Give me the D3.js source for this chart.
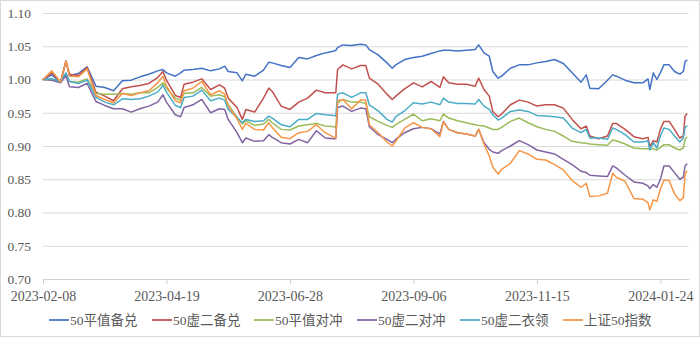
<!DOCTYPE html>
<html><head><meta charset="utf-8">
<script src="https://cdn.jsdelivr.net/npm/d3@7"></script>
<style>html,body{margin:0;padding:0;background:#fff;} svg{display:block;}</style>
</head><body>
<svg id="chart" width="700" height="337"></svg>
<script>
const dates = [
"2023-02-08","2023-02-13","2023-02-18","2023-02-21","2023-02-23","2023-02-28","2023-03-05","2023-03-10","2023-03-15","2023-03-20",
"2023-03-25","2023-03-30","2023-04-04","2023-04-09","2023-04-14","2023-04-17","2023-04-19","2023-04-24","2023-04-27","2023-04-29",
"2023-05-04","2023-05-09","2023-05-14","2023-05-19","2023-05-22","2023-05-24","2023-05-29","2023-06-01","2023-06-03","2023-06-08",
"2023-06-13","2023-06-16","2023-06-18","2023-06-23","2023-06-28","2023-07-03","2023-07-08","2023-07-13","2023-07-18","2023-07-23",
"2023-07-24","2023-07-25","2023-07-28","2023-08-02","2023-08-07","2023-08-10","2023-08-12","2023-08-17","2023-08-22","2023-08-25",
"2023-08-27","2023-09-01","2023-09-06","2023-09-11","2023-09-16","2023-09-21","2023-09-23","2023-09-26","2023-10-01","2023-10-06",
"2023-10-11","2023-10-13","2023-10-16","2023-10-19","2023-10-21","2023-10-24","2023-10-26","2023-10-31","2023-11-05","2023-11-10",
"2023-11-15","2023-11-20","2023-11-25","2023-11-30","2023-12-05","2023-12-10","2023-12-13","2023-12-15","2023-12-20","2023-12-25",
"2023-12-28","2023-12-30","2024-01-04","2024-01-09","2024-01-14","2024-01-17","2024-01-18","2024-01-20","2024-01-22","2024-01-24",
"2024-01-26","2024-01-29","2024-02-01","2024-02-04","2024-02-06","2024-02-07","2024-02-08"];

const atmCovered = [ // 50平值备兑
1.000,1.007,0.996,1.027,1.006,1.009,1.019,0.990,0.988,0.983,
0.998,0.999,1.004,1.008,1.013,1.015,1.010,1.005,1.010,1.014,
1.015,1.017,1.013,1.016,1.020,1.012,1.010,0.998,1.008,1.005,
1.014,1.026,1.025,1.021,1.018,1.033,1.031,1.036,1.040,1.043,
1.044,1.048,1.052,1.051,1.053,1.052,1.045,1.037,1.025,1.017,
1.022,1.030,1.033,1.035,1.039,1.043,1.044,1.044,1.043,1.044,
1.045,1.052,1.040,1.035,1.012,1.002,1.005,1.017,1.022,1.022,
1.025,1.027,1.030,1.024,1.010,0.996,1.007,0.987,0.986,0.999,
1.007,1.005,0.999,0.995,0.995,1.001,0.985,1.010,1.000,1.010,
1.022,1.022,1.012,1.008,1.012,1.027,1.029];

const otmCovered = [ // 50虚二备兑
1.000,1.010,0.996,1.028,1.008,1.006,1.018,0.981,0.975,0.968,
0.986,0.989,0.991,0.994,1.003,1.012,0.999,0.976,0.973,0.993,
0.996,1.001,0.985,0.992,0.987,0.972,0.958,0.940,0.955,0.951,
0.972,0.987,0.982,0.960,0.955,0.966,0.972,0.984,0.980,0.980,
0.980,1.015,1.022,1.016,1.021,1.021,1.002,0.993,0.978,0.970,
0.975,0.986,0.995,0.989,0.997,0.988,1.004,0.995,0.993,0.993,
0.990,1.002,0.985,0.975,0.952,0.944,0.948,0.962,0.969,0.966,
0.960,0.962,0.962,0.957,0.940,0.926,0.930,0.915,0.911,0.915,
0.934,0.934,0.925,0.914,0.911,0.913,0.899,0.908,0.906,0.925,
0.937,0.937,0.925,0.912,0.915,0.945,0.948];

const atmHedge = [ // 50平值对冲
1.000,1.000,0.997,1.008,0.997,0.996,1.001,0.979,0.978,0.978,
0.979,0.978,0.980,0.980,0.988,0.995,0.987,0.972,0.969,0.979,
0.980,0.988,0.975,0.977,0.974,0.962,0.943,0.933,0.938,0.931,
0.933,0.940,0.935,0.925,0.924,0.930,0.932,0.934,0.930,0.929,
0.928,0.965,0.970,0.966,0.966,0.964,0.944,0.937,0.931,0.928,
0.932,0.940,0.948,0.938,0.941,0.938,0.948,0.942,0.938,0.935,
0.932,0.931,0.930,0.927,0.925,0.925,0.928,0.937,0.942,0.935,
0.929,0.925,0.922,0.915,0.907,0.905,0.904,0.903,0.902,0.901,
0.909,0.908,0.903,0.897,0.896,0.896,0.895,0.896,0.894,0.898,
0.902,0.902,0.897,0.894,0.897,0.910,0.913];

const otmHedge = [ // 50虚二对冲
1.000,0.999,0.995,1.006,0.989,0.988,0.994,0.967,0.961,0.956,
0.956,0.951,0.956,0.960,0.966,0.977,0.966,0.947,0.944,0.958,
0.962,0.970,0.950,0.956,0.955,0.940,0.920,0.905,0.912,0.907,
0.908,0.917,0.913,0.905,0.903,0.910,0.905,0.923,0.912,0.911,
0.911,0.958,0.960,0.952,0.957,0.956,0.929,0.917,0.910,0.905,
0.910,0.920,0.926,0.928,0.926,0.918,0.937,0.925,0.920,0.918,
0.915,0.925,0.905,0.895,0.891,0.889,0.893,0.900,0.908,0.902,
0.894,0.891,0.888,0.880,0.872,0.862,0.860,0.856,0.855,0.854,
0.870,0.867,0.856,0.846,0.844,0.840,0.836,0.842,0.838,0.850,
0.870,0.870,0.860,0.850,0.853,0.870,0.873];

const otmCollar = [ // 50虚二衣领
1.000,1.001,0.997,1.010,0.997,0.994,0.999,0.973,0.966,0.962,
0.971,0.970,0.971,0.975,0.981,0.991,0.981,0.961,0.958,0.973,
0.975,0.984,0.968,0.972,0.969,0.955,0.943,0.935,0.940,0.937,
0.938,0.945,0.942,0.932,0.929,0.940,0.940,0.949,0.947,0.946,
0.945,0.978,0.980,0.973,0.980,0.980,0.962,0.953,0.940,0.936,
0.944,0.953,0.965,0.963,0.966,0.962,0.972,0.966,0.964,0.964,
0.963,0.970,0.960,0.955,0.947,0.939,0.942,0.952,0.954,0.952,
0.946,0.945,0.944,0.942,0.927,0.920,0.925,0.912,0.912,0.910,
0.927,0.925,0.917,0.906,0.906,0.908,0.894,0.905,0.897,0.915,
0.927,0.925,0.915,0.906,0.912,0.928,0.930];

const sse50 = [ // 上证50指数
1.000,1.013,0.996,1.028,1.005,1.004,1.016,0.976,0.970,0.965,
0.979,0.976,0.980,0.983,0.995,1.005,0.990,0.968,0.965,0.983,
0.987,0.997,0.977,0.983,0.978,0.960,0.941,0.925,0.934,0.925,
0.924,0.935,0.928,0.913,0.911,0.920,0.922,0.932,0.920,0.913,
0.912,0.968,0.970,0.956,0.969,0.969,0.932,0.920,0.906,0.900,
0.907,0.927,0.935,0.928,0.926,0.914,0.936,0.925,0.920,0.918,
0.915,0.925,0.903,0.885,0.868,0.858,0.865,0.874,0.893,0.888,
0.880,0.879,0.872,0.864,0.848,0.838,0.844,0.824,0.825,0.829,
0.859,0.853,0.847,0.821,0.820,0.815,0.804,0.819,0.817,0.835,
0.849,0.848,0.828,0.818,0.822,0.858,0.862];

const seriesNames = ["50平值备兑","50虚二备兑","50平值对冲","50虚二对冲","50虚二衣领","上证50指数"];
const seriesColors = ["#4472C4","#C0504D","#9BBB59","#8064A2","#4BACC6","#F79646"];
const seriesValues = [atmCovered, otmCovered, atmHedge, otmHedge, otmCollar, sse50];
const yTickLabels = ["0.70","0.75","0.80","0.85","0.90","0.95","1.00","1.05","1.10"];
const xTickLabels = ["2023-02-08","2023-04-19","2023-06-28","2023-09-06","2023-11-15","2024-01-24"];
const xDomain = ["2023-02-08","2024-02-09"];

(function(){
const parse = d3.timeParse("%Y-%m-%d");
const svg = d3.select("#chart");
const pL = 43, pR = 688.6, pT = 13, pB = 279;

svg.append("rect").attr("x",0.5).attr("y",0.5).attr("width",699).attr("height",336)
  .attr("fill","#fff").attr("stroke","#d9d9d9");

const x = d3.scaleTime().domain(xDomain.map(parse)).range([pL, pR]);
const y = d3.scaleLinear().domain([0.70, 1.10]).range([pB, pT]);

const yAxis = d3.axisLeft(y).tickValues(yTickLabels.map(Number))
  .tickFormat(d3.format(".2f")).tickSize(-(pR-pL)).tickPadding(12);
const gy = svg.append("g").attr("transform",`translate(${pL},0)`).call(yAxis);
gy.select(".domain").remove();
gy.selectAll(".tick line").attr("stroke","#d9d9d9").attr("stroke-width",1);
gy.selectAll(".tick text").attr("fill","#595959")
  .style("font-family","'Liberation Serif','Times New Roman',serif").style("font-size","13.5px");

const xAxis = d3.axisBottom(x).tickValues(xTickLabels.map(parse))
  .tickFormat(d3.timeFormat("%Y-%m-%d")).tickSize(5).tickSizeOuter(0).tickPadding(7);
const gx = svg.append("g").attr("transform",`translate(0,${pB})`).call(xAxis);
gx.select(".domain").attr("stroke","#d0d0d0");
gx.selectAll(".tick line").attr("stroke","#d0d0d0");
gx.selectAll(".tick text").attr("fill","#595959")
  .style("font-family","'Liberation Serif','Times New Roman',serif").style("font-size","14px");

const parsedDates = dates.map(parse);
const line = d3.line().x(d => x(d[0])).y(d => y(d[1]));
seriesValues.forEach((vals, i) => {
  svg.append("path")
    .datum(parsedDates.map((dt, j) => [dt, vals[j]]))
    .attr("fill","none").attr("stroke",seriesColors[i])
    .attr("stroke-width",1.5).attr("stroke-linejoin","round").attr("stroke-linecap","round")
    .attr("d", line);
});

const legendX = [49, 152, 254, 357, 460, 563];
const legendY = 320;
seriesNames.forEach((name, i) => {
  const g = svg.append("g").attr("transform",`translate(${legendX[i]},${legendY})`);
  g.append("line").attr("x1",0).attr("x2",20).attr("y1",0).attr("y2",0)
    .attr("stroke",seriesColors[i]).attr("stroke-width",1.75);
  g.append("text").attr("x",21).attr("y",0).attr("dy","0.35em")
    .attr("fill","#595959")
    .style("font-family","'Liberation Serif','Noto Sans CJK SC',serif").style("font-size","13.5px")
    .text(name);
});
})();
</script>
</body></html>
